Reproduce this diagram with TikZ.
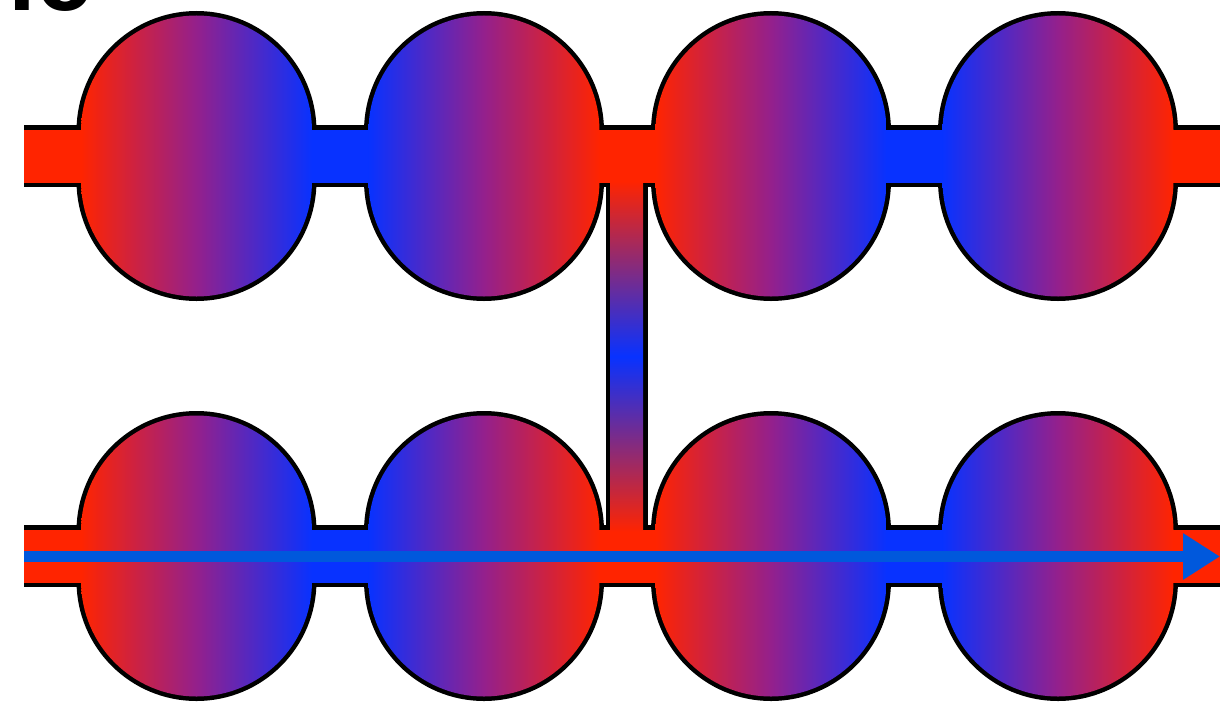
\documentclass[tikz,border=0pt]{standalone}
\usepackage{fontspec}
\newfontfamily\hdfont{Liberation Sans}
\usetikzlibrary{arrows.meta}
\definecolor{cred}{RGB}{255,36,0}
\definecolor{cblue}{RGB}{8,50,255}
\definecolor{cpurp}{RGB}{148,32,140}
\definecolor{carrow}{RGB}{0,88,220}
\tikzset{
  outl/.style={draw=black, line width=9},
  rb/.style={left color=cred, right color=cblue, middle color=cpurp},
  br/.style={left color=cblue, right color=cred, middle color=cpurp},
}
\begin{document}
\begin{tikzpicture}[x=1pt,y=-1pt]
\useasboundingbox (0,0) rectangle (1220,701);
\node[anchor=base east, inner sep=0, font=\hdfont\bfseries\fontsize{100}{110}\selectfont] (title) at (92,11) {ic};
% outlines
\foreach \cy in {156,556}{
  \foreach \cx in {196.5,484,771,1058}{
    \draw[outl] (\cx-115.5,\cy-25) arc[start angle=180,end angle=0,radius=115.5pt] -- ++(0,50) arc[start angle=0,end angle=-180,radius=115.5pt] -- cycle;
  }
  \draw[outl] (24,\cy-26.5) -- (1226,\cy-26.5);
  \draw[outl] (24,\cy+26.5) -- (1226,\cy+26.5);
}
\draw[outl] (610,182.5) -- (610,530);
\draw[outl] (643,182.5) -- (643,530);
% channel fills
\foreach \cy in {156,556}{
  \fill[cred] (24,\cy-26.5) rectangle (200,\cy+26.5);
  \fill[cblue] (196,\cy-26.5) rectangle (487,\cy+26.5);
  \fill[cred] (483,\cy-26.5) rectangle (774,\cy+26.5);
  \fill[cblue] (770,\cy-26.5) rectangle (1061,\cy+26.5);
  \fill[cred] (1057,\cy-26.5) rectangle (1226,\cy+26.5);
}
\shade[top color=cred, bottom color=cred, middle color=cblue] (610,181) rectangle (643,532);
% bulb fills
\foreach \cy in {156,556}{
  \foreach \cx/\sty in {196.5/rb,484/br,771/rb,1058/br}{
    \shade[\sty] (\cx-115.5,\cy-25) arc[start angle=180,end angle=0,radius=115.5pt] -- ++(0,50) arc[start angle=0,end angle=-180,radius=115.5pt] -- cycle;
  }
}
% arrow
\coordinate (as) at (24,556.5);
\coordinate (ae) at (1220,556.5);
\draw[carrow, line width=11, -{Triangle[length=37pt,width=44pt]}] (as) -- (ae);
\end{tikzpicture}
\end{document}
